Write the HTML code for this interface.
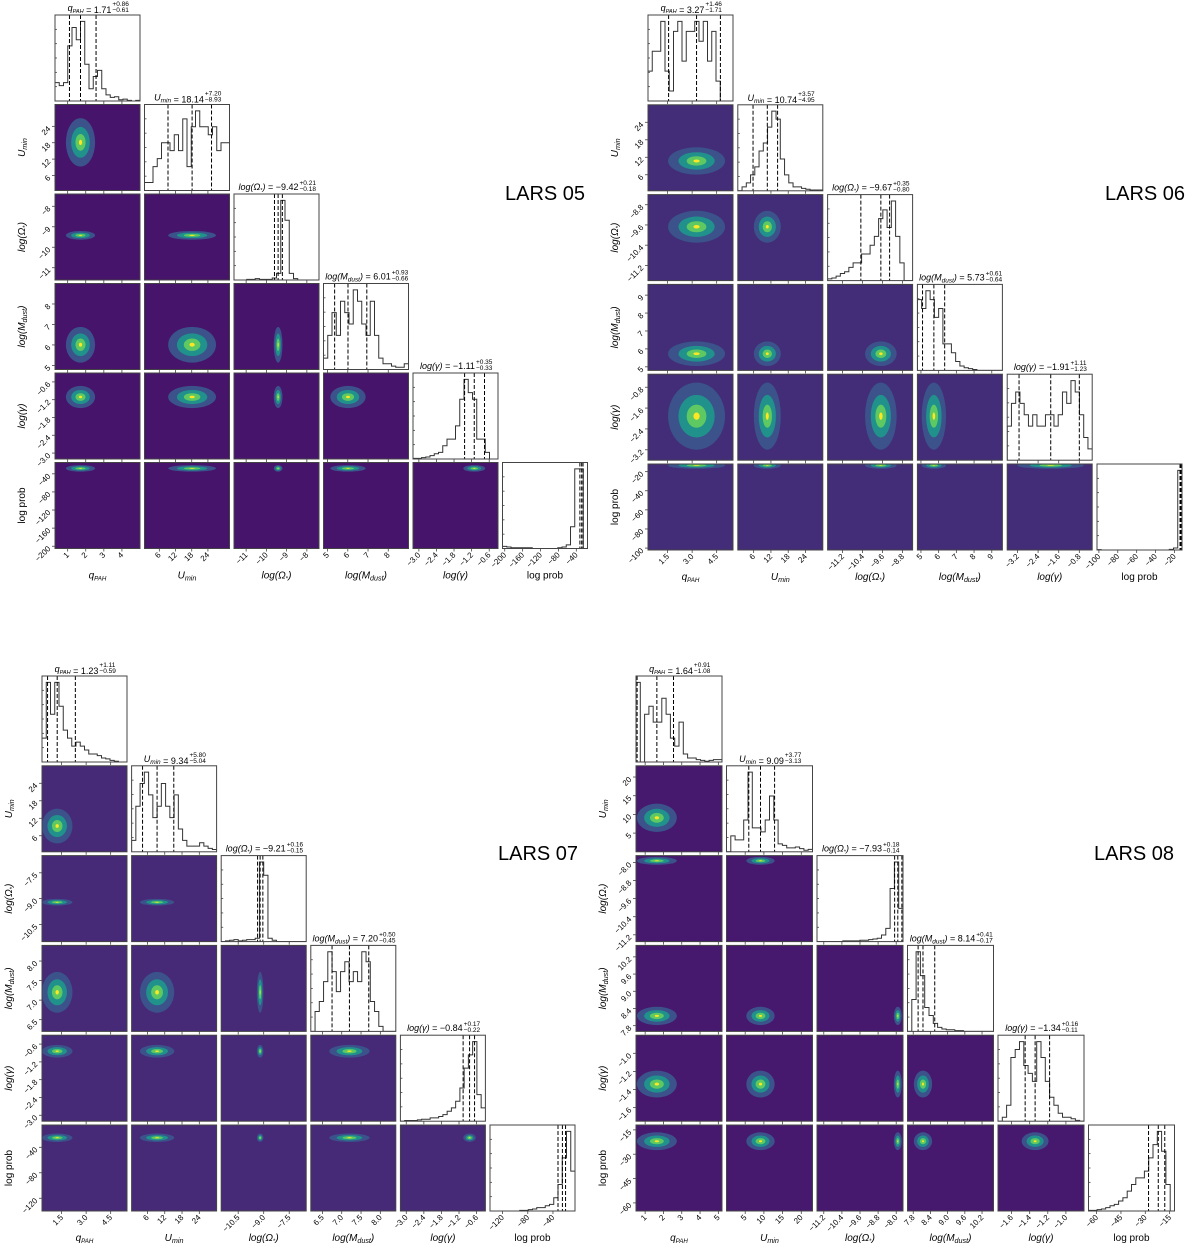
<!DOCTYPE html>
<html><head><meta charset="utf-8">
<style>
html,body{margin:0;padding:0;background:#fff;}
svg{display:block;font-family:"Liberation Sans","DejaVu Sans",sans-serif;}
</style></head>
<body>
<svg id="chart" width="1200" height="1253" viewBox="0 0 1200 1253" xmlns="http://www.w3.org/2000/svg"></svg>
<script>
// ---- data ----
const plotNames = ["LARS 05","LARS 06","LARS 07","LARS 08"];
const varNames = ["q_PAH","U_min","log(Ω*)","log(M_dust)","log(γ)","log prob"];
const ranges05 = [[0.3,5],[0.5,32],[-11.6,-7.4],[4.8,9],[-3.2,-0.3],[-205,-15]];
const ranges06 = [[0.3,5.5],[0.5,30],[-11.8,-8.4],[4.8,9.6],[-3.6,-0.3],[-102,-12]];
const ranges07 = [[0.3,5.5],[0.5,30],[-11.5,-6.5],[6.2,8.4],[-3.2,-0.3],[-140,-5]];
const ranges08 = [[0.5,5.2],[0,23],[-11.5,-7.7],[7.6,10.6],[-1.75,-0.8],[-65,-12]];
const ticks05 = [[1,2,3,4],[6,12,18,24],[-11,-10,-9,-8],[5,6,7,8],[-3.0,-2.4,-1.8,-1.2,-0.6],[-200,-160,-120,-80,-40]];
const ticks06 = [[1.5,3.0,4.5],[6,12,18,24],[-11.2,-10.4,-9.6,-8.8],[5,6,7,8,9],[-3.2,-2.4,-1.6,-0.8],[-100,-80,-60,-40,-20]];
const ticks07 = [[1.5,3.0,4.5],[6,12,18,24],[-10.5,-9.0,-7.5],[6.5,7.0,7.5,8.0],[-3.0,-2.4,-1.8,-1.2,-0.6],[-120,-80,-40]];
const ticks08 = [[1,2,3,4,5],[5,10,15,20],[-11.2,-10.4,-9.6,-8.8,-8.0],[7.8,8.4,9.0,9.6,10.2],[-1.6,-1.4,-1.2,-1.0],[-60,-45,-30,-15]];
const tickLabels05 = [["1","2","3","4"],["6","12","18","24"],["−11","−10","−9","−8"],["5","6","7","8"],["−3.0","−2.4","−1.8","−1.2","−0.6"],["−200","−160","−120","−80","−40"]];
const tickLabels06 = [["1.5","3.0","4.5"],["6","12","18","24"],["−11.2","−10.4","−9.6","−8.8"],["5","6","7","8","9"],["−3.2","−2.4","−1.6","−0.8"],["−100","−80","−60","−40","−20"]];
const tickLabels07 = [["1.5","3.0","4.5"],["6","12","18","24"],["−10.5","−9.0","−7.5"],["6.5","7.0","7.5","8.0"],["−3.0","−2.4","−1.8","−1.2","−0.6"],["−120","−80","−40"]];
const tickLabels08 = [["1","2","3","4","5"],["5","10","15","20"],["−11.2","−10.4","−9.6","−8.8","−8.0"],["7.8","8.4","9.0","9.6","10.2"],["−1.6","−1.4","−1.2","−1.0"],["−60","−45","−30","−15"]];
const med05 = [1.71,18.14,-9.42,6.01,-1.11,-28];
const plus05 = [0.86,7.20,0.21,0.93,0.35,3];
const minus05 = [0.61,8.93,0.18,0.66,0.33,4];
const med06 = [3.27,10.74,-9.67,5.73,-1.91,-13.5];
const plus06 = [1.46,3.57,0.35,0.61,1.11,0.5];
const minus06 = [1.71,4.95,0.80,0.64,1.23,0.6];
const med07 = [1.23,9.34,-9.21,7.20,-0.84,-25];
const plus07 = [1.11,5.80,0.16,0.50,0.17,5];
const minus07 = [0.59,5.04,0.15,0.45,0.22,7];
const med08 = [1.64,9.09,-7.93,8.14,-1.34,-22];
const plus08 = [0.91,3.77,0.18,0.41,0.16,4];
const minus08 = [1.08,3.13,0.14,0.17,0.11,6];
const hist05 = [
 [3,2.5,3,9,12,10,13,6,2,4,5,2,1,0.6,0.7,0.2,0.3,0.1,0,0.1],
 [1,1,3,4,6,6,5,7,5,9,3,8,10,8,8,7,8,5,6,6],
 [0,0,0,0.1,0.1,0.2,0.1,0.1,0.1,0.3,1,12,9,1,0.2,0,0,0,0,0],
 [1,3,5,3,6,5,4,7,6,4,3,6,3,1,0.5,0.5,0.3,0.2,0.2,0.5],
 [0.1,0.1,0.2,0.3,0.5,0.8,1,2,3,3,5,9,12,10,9,3,3,1,0,0],
 [0.3,0.2,0.1,0.1,0.1,0.1,0.1,0,0,0,0,0,0,0.1,0.2,0.5,3,11,11,0]];
const hist06 = [
 [3,5,5,8,3,1,7,8,4,7,7,8,6,8,4,7,2,0,0,0],
 [0,0.5,1,2,3,5,6,8,10,9,4,2,1,0.5,0.5,0.3,0.2,0.1,0.1,0.1],
 [0.2,0.3,0.5,0.8,1,1.5,2,2,3,3,4,5,7,8,6,9,5,2,0,0],
 [8,7,9,8,6,7,3,3,2,1,0.5,0.3,0.2,0.1,0,0,0,0,0,0],
 [3,5,6,5,4,3,4,3,3,4,4,3,4,6,5,7,6,4,2,1],
 [0.05,0,0,0,0,0,0,0,0,0,0,0,0,0,0,0,0,0.1,0.3,12]];
const hist07 = [
 [3,10,6,10,7,4,3,2,2.5,2,1.5,1,1,0.8,0.5,0.4,0.2,0.1,0,0],
 [1,4,6,7,5,3,4,6,4,3,5,2,1,0.5,0.5,0.5,0.8,0.5,0.3,0.2],
 [0,0.1,0.2,0.3,0.1,0.2,0.3,0.3,0.5,12,10,0.5,0.2,0,0,0,0,0,0,0],
 [0,2,3,5,8,6,4,6,7,5,6,5,8,7,3,2,0.5,0,0,0],
 [0,0.1,0.1,0.1,0.2,0.3,0.3,0.5,0.5,0.7,1,1.5,2,3,5,8,10,12,4,2],
 [0,0,0,0,0,0,0,0.1,0.1,0.2,0.3,0.5,0.5,0.8,1,2,4,8,12,6]];
const hist08 = [
 [10,0,6,7,5,5,8,6,3,2,5,1,0.5,0.5,0.3,0.2,0.1,0.2,0.3,0.3],
 [0,2,1.5,1.5,4,10,3,3,2.5,4,7,4,1,0.8,0.5,0.5,0.6,0.4,0.2,0.3],
 [0,0,0,0,0,0,0.1,0.1,0.1,0.1,0.2,0.2,0.3,0.4,0.5,1,2,8,12,5],
 [0,4,10,7,3,2,1,0.5,0.3,0.2,0.2,0.1,0.1,0,0,0,0,0,0,0],
 [0,0.5,2,8,9,10,7,6,5,10,8,5,3,2,1,0.5,0.5,0.3,0.1,0],
 [0.1,0.1,0.2,0.3,0.5,0.8,1,1.5,2,3,4,5,5,6,8,10,12,9,4,0]];

const plots = [
 {name:plotNames[0], ranges:ranges05, ticks:ticks05, tl:tickLabels05, med:med05, plus:plus05, minus:minus05, hist:hist05, x0:55, y0:15, sx:89.5, sy:89.5, w:85, h:86, lx:505, ly:200, bg:"#46146b"},
 {name:plotNames[1], ranges:ranges06, ticks:ticks06, tl:tickLabels06, med:med06, plus:plus06, minus:minus06, hist:hist06, x0:648, y0:15, sx:89.8, sy:89.8, w:85, h:86, lx:1105, ly:200, bg:"#432d78"},
 {name:plotNames[2], ranges:ranges07, ticks:ticks07, tl:tickLabels07, med:med07, plus:plus07, minus:minus07, hist:hist07, x0:42, y0:676, sx:89.6, sy:89.8, w:85, h:86, lx:498, ly:860, bg:"#462a78"},
 {name:plotNames[3], ranges:ranges08, ticks:ticks08, tl:tickLabels08, med:med08, plus:plus08, minus:minus08, hist:hist08, x0:636, y0:676, sx:90.5, sy:89.8, w:86, h:86, lx:1094, ly:860, bg:"#46186e"}
];

const NS = "http://www.w3.org/2000/svg";
const svg = document.getElementById("chart");
function el(tag, attrs, parent){
  const e = document.createElementNS(NS, tag);
  for (const k in attrs) e.setAttribute(k, attrs[k]);
  (parent||svg).appendChild(e);
  return e;
}
function fmt(v){ return (v<0?"−":"")+Math.abs(v).toFixed(2); }

function labelText(parent, x, y, vi, size, anchor, rot){
  const t = el("text", {x:x, y:y, "font-size":size, "text-anchor":anchor, fill:"#000"}, parent);
  if (rot) t.setAttribute("transform", "rotate(-90 "+x+" "+y+")");
  const add=(s, opts)=>{ const ts=el("tspan", opts||{}, t); ts.textContent=s; return ts; };
  if (vi===0){ add("q",{"font-style":"italic"}); add("PAH",{"font-size":size*0.62,"font-style":"italic",dy:2}); add("",{dy:-2}); }
  else if (vi===1){ add("U",{"font-style":"italic"}); add("min",{"font-size":size*0.72,"font-style":"italic",dy:2}); add("",{dy:-2}); }
  else if (vi===2){ add("log(Ω",{"font-style":"italic"}); add("*",{"font-size":size*0.6,dy:2}); add(")",{"font-style":"italic",dy:-2}); }
  else if (vi===3){ add("log(M",{"font-style":"italic"}); add("dust",{"font-size":size*0.72,"font-style":"italic",dy:2}); add(")",{"font-style":"italic",dy:-2}); }
  else if (vi===4){ add("log(γ)",{"font-style":"italic"}); }
  else { add("log prob"); }
  return t;
}

plots.forEach((p, pi) => {
  const g = el("g", {});
  
  
  const px = i => p.x0 + i*p.sx;
  const py = j => p.y0 + j*p.sy;
  const X = (i, v) => px(i) + (v - p.ranges[i][0])/(p.ranges[i][1]-p.ranges[i][0]) * p.w;
  const Y = (j, i, v) => py(j) + p.h - (v - p.ranges[i][0])/(p.ranges[i][1]-p.ranges[i][0]) * p.h;

  const lt = el("text", {x:p.lx, y:p.ly, "font-size":20, fill:"#000"}, g);
  lt.textContent = p.name;
  
  

  for (let j=0;j<6;j++){
    for (let i=0;i<=j;i++){
      const pg = el("g", {}, g);
      
      
      const x=px(i), y=py(j);
      const cid = "c"+pi+"_"+i+"_"+j;
      const cp = el("clipPath",{id:cid},pg); el("rect",{x:x,y:y,width:p.w,height:p.h},cp);
      if (i===j){
        el("rect",{x:x,y:y,width:p.w,height:p.h,fill:"#fff"},pg);
        const hs = p.hist[i]; const mx = Math.max(...hs)*1.08; const n = hs.length;
        let d = "M"+x+","+(y+p.h);
        hs.forEach((v,k)=>{ const yy = y+p.h - v/mx*p.h; d += " L"+(x+k*p.w/n)+","+yy+" L"+(x+(k+1)*p.w/n)+","+yy; });
        const path = el("path",{d:d,fill:"none",stroke:"#333","stroke-width":1,"clip-path":"url(#"+cid+")"},pg);
        
        [p.med[i]-p.minus[i], p.med[i], p.med[i]+p.plus[i]].forEach(v=>{
          const xx = X(i,v);
          const ln = el("line",{x1:xx,x2:xx,y1:y,y2:y+p.h,stroke:"#000","stroke-width":1,"stroke-dasharray":"4,2","clip-path":"url(#"+cid+")"},pg);
          
        });
        for (let k=1;k<=5;k++) el("line",{x1:x,x2:x+2,y1:y+p.h-k*p.h/6,y2:y+p.h-k*p.h/6,stroke:"#444","stroke-width":0.8},pg);
        if (i<5){
          const ty = y-4;
          const t = labelText(pg, 0, ty, i, 9, "start");
          const ts = el("tspan",{},t); ts.textContent = " = "+fmt(p.med[i]);
          const tw = t.getComputedTextLength();
          const total = tw + 16;
          const sx0 = x + p.w/2 - total/2;
          t.setAttribute("x", sx0);
          const tp = el("text",{x:sx0+tw+1,y:ty-5,"font-size":6.5,fill:"#000"},pg); tp.textContent="+"+p.plus[i].toFixed(2);
          const tm = el("text",{x:sx0+tw+1,y:ty+1,"font-size":6.5,fill:"#000"},pg); tm.textContent="−"+p.minus[i].toFixed(2);
        }
      } else {
        el("rect",{x:x,y:y,width:p.w,height:p.h,fill:p.bg},pg);
        const cx = X(i,p.med[i]), cy = Y(j,j,p.med[j]);
        const rx = Math.max(3, (p.plus[i]+p.minus[i])/2/(p.ranges[i][1]-p.ranges[i][0])*p.w);
        const ry = Math.max(3, (p.plus[j]+p.minus[j])/2/(p.ranges[j][1]-p.ranges[j][0])*p.h);
        const levels = [[1.1,"#3b528b"],[0.7,"#21918c"],[0.38,"#5ec962"],[0.12,"#fde725"]];
        levels.forEach(([s,c])=>{
          const e = el("ellipse",{cx:cx,cy:cy,rx:Math.min(rx*s,p.w*0.45),ry:Math.min(ry*s,p.h*0.45),fill:c,"clip-path":"url(#"+cid+")"},pg);
          
        });
      }
      el("rect",{x:x,y:y,width:p.w,height:p.h,fill:"none",stroke:"#444","stroke-width":1},pg);
      p.ticks[i].forEach((tv,k)=>{
        const xx = X(i,tv);
        el("line",{x1:xx,x2:xx,y1:y+p.h,y2:y+p.h+3,stroke:"#444","stroke-width":0.8},pg);
        if (j===5){
          const t = el("text",{x:xx+2,y:y+p.h+7,"font-size":8,"text-anchor":"end",fill:"#000",transform:"rotate(-45 "+(xx+2)+" "+(y+p.h+7)+")"},pg);
          t.textContent = p.tl[i][k];
        }
      });
      if (i===0 && j>0){
        p.ticks[j].forEach((tv,k)=>{
          const yy = Y(j,j,tv);
          el("line",{x1:x-3,x2:x,y1:yy,y2:yy,stroke:"#444","stroke-width":0.8},pg);
          const t = el("text",{x:x-4,y:yy+3,"font-size":8,"text-anchor":"end",fill:"#000",transform:"rotate(-45 "+(x-4)+" "+(yy+3)+")"},pg);
          t.textContent = p.tl[j][k];
        });
        const yl = labelText(pg, x-30, y+p.h/2, j, 10, "middle", true);
        
      }
      if (j===5){
        const xl = labelText(pg, x+p.w/2, y+p.h+30, i, 10, "middle");
        
      }
    }
  }
});
</script>
</body></html>
